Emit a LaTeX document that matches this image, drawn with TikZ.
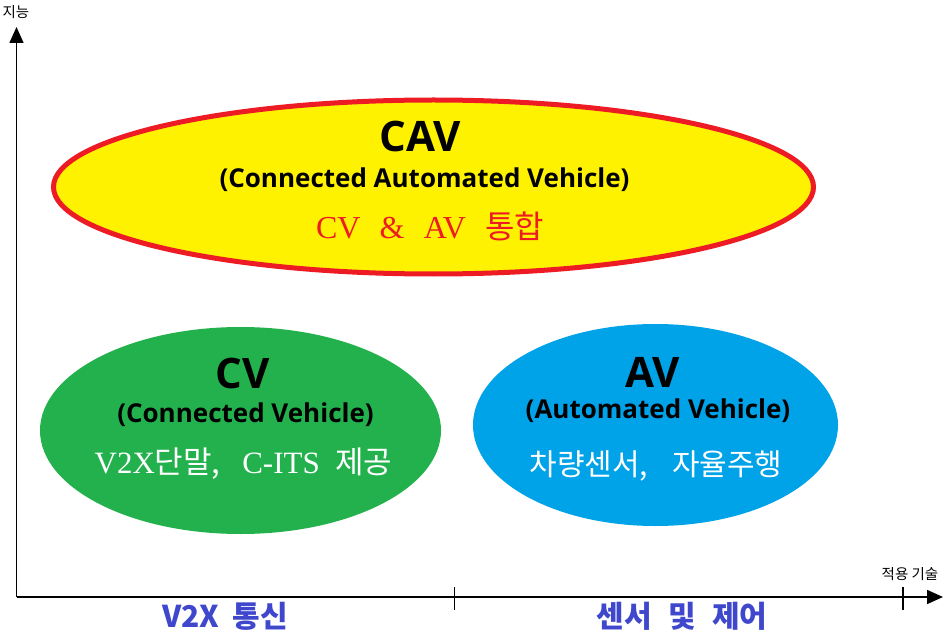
\documentclass[tikz,border=0pt]{standalone}
\usepackage{fontspec}
\setmainfont{Liberation Serif}
\newfontfamily\kr{Noto Sans CJK KR}
\newfontfamily\lat{Open Sans}
\newfontfamily\ser{Liberation Serif}
\usetikzlibrary{shapes.geometric,arrows.meta}
\definecolor{cavyellow}{HTML}{FFF200}
\definecolor{cavred}{HTML}{ED1C24}
\definecolor{cvgreen}{HTML}{22B14C}
\definecolor{avblue}{HTML}{00A2E8}
\definecolor{labblue}{HTML}{3F48CC}
\tikzset{
  axisline/.style={line width=1.6pt, -{Triangle[length=16pt,width=14pt]}},
  tickline/.style={line width=1.4pt},
  blob/.style={ellipse, inner sep=0pt, draw=none},
  title/.style={anchor=base, inner sep=0pt, font=\lat\bfseries\fontsize{42}{42}\selectfont},
  sub/.style={anchor=base, inner sep=0pt, font=\lat\bfseries\fontsize{26}{26}\selectfont},
  axislab/.style={anchor=base, inner sep=0pt, font=\kr\fontsize{14.5}{14.5}\selectfont},
  catlab/.style={anchor=base, inner sep=0pt, text=labblue, font=\kr\bfseries\fontsize{30}{30}\selectfont},
}
\begin{document}
\begin{tikzpicture}[x=1pt,y=-1pt]
\useasboundingbox (0,0) rectangle (947,636);
% axes
\coordinate (O) at (16.5,597);
\coordinate (ytop) at (16.5,27);
\coordinate (xend) at (943,597);
\draw[axisline] (O) -- (ytop);
\draw[axisline] (O) -- (xend);
\coordinate (t1a) at (454.5,587);
\coordinate (t1b) at (454.5,610);
\coordinate (t2a) at (903,587);
\coordinate (t2b) at (903,610);
\draw[tickline] (t1a) -- (t1b);
\draw[tickline] (t2a) -- (t2b);
\node[axislab] (ylab) at (16,18) {지능};
\node[axislab] (xlab) at (910,579) {적용 기술};
% ellipses
\node[blob, fill=cavyellow, draw=cavred, line width=5pt, minimum width=760pt, minimum height=174pt] (cav) at (433.5,187) {};
\node[blob, fill=cvgreen, minimum width=401pt, minimum height=207pt] (cv) at (240.5,430.5) {};
\node[blob, fill=avblue, minimum width=365pt, minimum height=202pt] (av) at (655.5,425) {};
% CAV texts
\node[title] (cavt) at (420,152) {CAV};
\node[sub] (cavs) at (424.5,188) {(Connected Automated Vehicle)};
\node[anchor=base, inner sep=0pt, text=cavred, font=\fontsize{32}{32}\selectfont] (cavk) at (430,239) {\ser CV\hspace{0.6em}\&\hspace{0.6em}AV\hspace{0.6em}{\kr 통합}};
% CV texts
\node[title] (cvt) at (243,388) {CV};
\node[sub] (cvs) at (245.5,422) {(Connected Vehicle)};
\node[anchor=base, inner sep=0pt, text=white, font=\fontsize{31}{31}\selectfont] (cvk) at (243.5,473) {\ser V2X{\kr 단말,}\hspace{0.7em}C-ITS\hspace{0.5em}{\kr 제공}};
% AV texts
\node[title] (avt) at (652.5,387) {AV};
\node[sub] (avs) at (658,418) {(Automated Vehicle)};
\node[anchor=base, inner sep=0pt, text=white, font=\kr\fontsize{30}{30}\selectfont] (avk) at (656,475) {차량센서,\hspace{0.8em}자율주행};
% category labels
\node[catlab] (c1) at (225,627) {V2X\hspace{0.45em}통신};
\node[catlab] (c2) at (682,627) {센서\hspace{0.55em}및\hspace{0.55em}제어};
\end{tikzpicture}
\end{document}
